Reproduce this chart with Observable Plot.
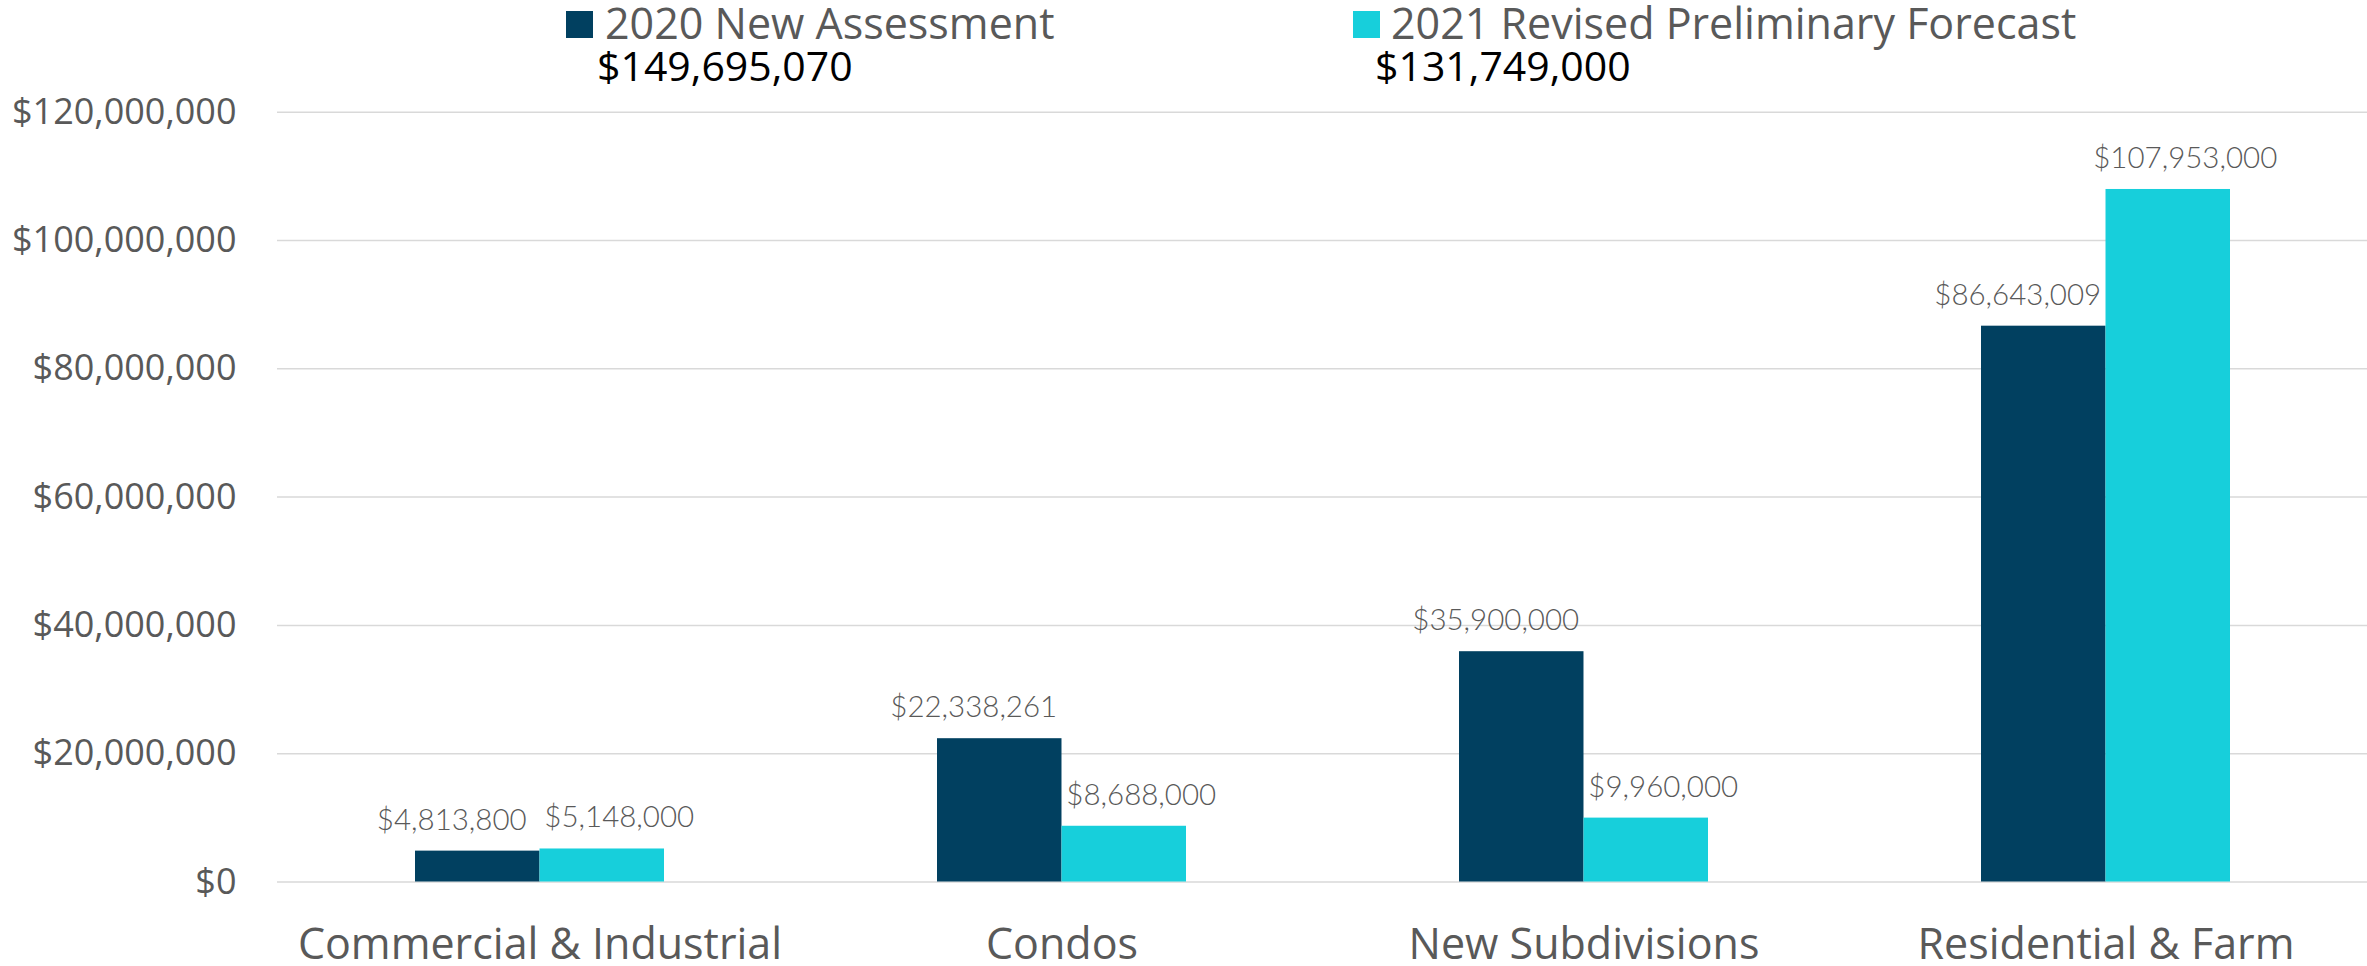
<!DOCTYPE html>
<html>
<head>
<meta charset="utf-8">
<script src="https://cdn.jsdelivr.net/npm/d3@7"></script>
<script src="https://cdn.jsdelivr.net/npm/@observablehq/plot@0.6"></script>
<style>
  html, body { margin: 0; padding: 0; background: #ffffff; }
  #wrap { width: 2367px; }
  #legend { position: relative; height: 92px; font-family: "Open Sans", sans-serif; }
  #legend .sw { position: absolute; width: 27px; height: 27px; top: 11px; }
  #legend .name { position: absolute; top: 1px; font-size: 43px; line-height: 1; color: #595959; white-space: nowrap; }
  #legend .total { position: absolute; top: 45px; font-size: 41px; line-height: 1; color: #000000; white-space: nowrap; }
</style>
</head>
<body>
<div id="wrap">
  <div id="legend"></div>
  <div id="chart"></div>
</div>
<script>
// ---- data ----
const categories = ["Commercial & Industrial", "Condos", "New Subdivisions", "Residential & Farm"];
const series = ["2020 New Assessment", "2021 Revised Preliminary Forecast"];
const values2020 = [4813800, 22338261, 35900000, 86643009];
const values2021 = [5148000, 8688000, 9960000, 107953000];
const yTicks = [0, 20000000, 40000000, 60000000, 80000000, 100000000, 120000000];
const colors = ["#014060", "#17CFDB"];

// ---- layout ----
const W = 2367, H = 874;
const mL = 277, mR = 0, mT = 19.7, mB = 84.5;
const padInner = 0.5234;
const step = (W - mL - mR) / categories.length;
const half = step * (1 - padInner) / 2;

const money = v => "$" + d3.format(",")(v);

const rows2020 = categories.map((c, i) => ({category: c, series: series[0], value: values2020[i]}));
const rows2021 = categories.map((c, i) => ({category: c, series: series[1], value: values2021[i]}));

// ---- legend (HTML) ----
const legend = document.getElementById("legend");
const legendPos = [
  {sw: 566, name: 605, total: 597},
  {sw: 1353, name: 1391, total: 1375}
];
const totals = [d3.sum(values2020), d3.sum(values2021)];
series.forEach((s, i) => {
  const sw = document.createElement("div");
  sw.className = "sw"; sw.style.left = legendPos[i].sw + "px"; sw.style.background = colors[i];
  const nm = document.createElement("div");
  nm.className = "name"; nm.style.left = legendPos[i].name + "px"; nm.textContent = s;
  const tt = document.createElement("div");
  tt.className = "total"; tt.style.left = legendPos[i].total + "px"; tt.textContent = money(totals[i]);
  legend.append(sw, nm, tt);
});

// ---- chart ----
const labelStyle = {fontSize: 29.5, fontFamily: "Lato", fontWeight: 300, fill: "#595959", dy: -31};

const chart = Plot.plot({
  width: W,
  height: H,
  marginLeft: mL,
  marginRight: mR,
  marginTop: mT,
  marginBottom: mB,
  style: {fontFamily: "'Open Sans', sans-serif", color: "#595959", background: "#ffffff", overflow: "visible"},
  x: {domain: categories, paddingInner: padInner, paddingOuter: padInner / 2, label: null},
  y: {domain: [0, 120000000], label: null},
  color: {domain: series, range: colors},
  marks: [
    Plot.gridY(yTicks, {stroke: "#d9d9d9", strokeOpacity: 1, strokeWidth: 1.5}),
    Plot.axisY(yTicks, {tickSize: 0, tickPadding: 41, tickFormat: money, fontSize: 36, label: null}),
    Plot.axisX({tickSize: 0, tickPadding: 46, fontSize: 43, label: null}),
    Plot.barY(rows2020, {x: "category", y: "value", fill: "series", insetRight: half}),
    Plot.barY(rows2021, {x: "category", y: "value", fill: "series", insetLeft: half}),
    Plot.text(rows2020, {x: "category", y: "value", text: d => money(d.value), dx: -half / 2 - 26, ...labelStyle}),
    Plot.text(rows2021, {x: "category", y: "value", text: d => money(d.value), dx: half / 2 + 17, ...labelStyle})
  ]
});
document.getElementById("chart").append(chart);
</script>
</body>
</html>
